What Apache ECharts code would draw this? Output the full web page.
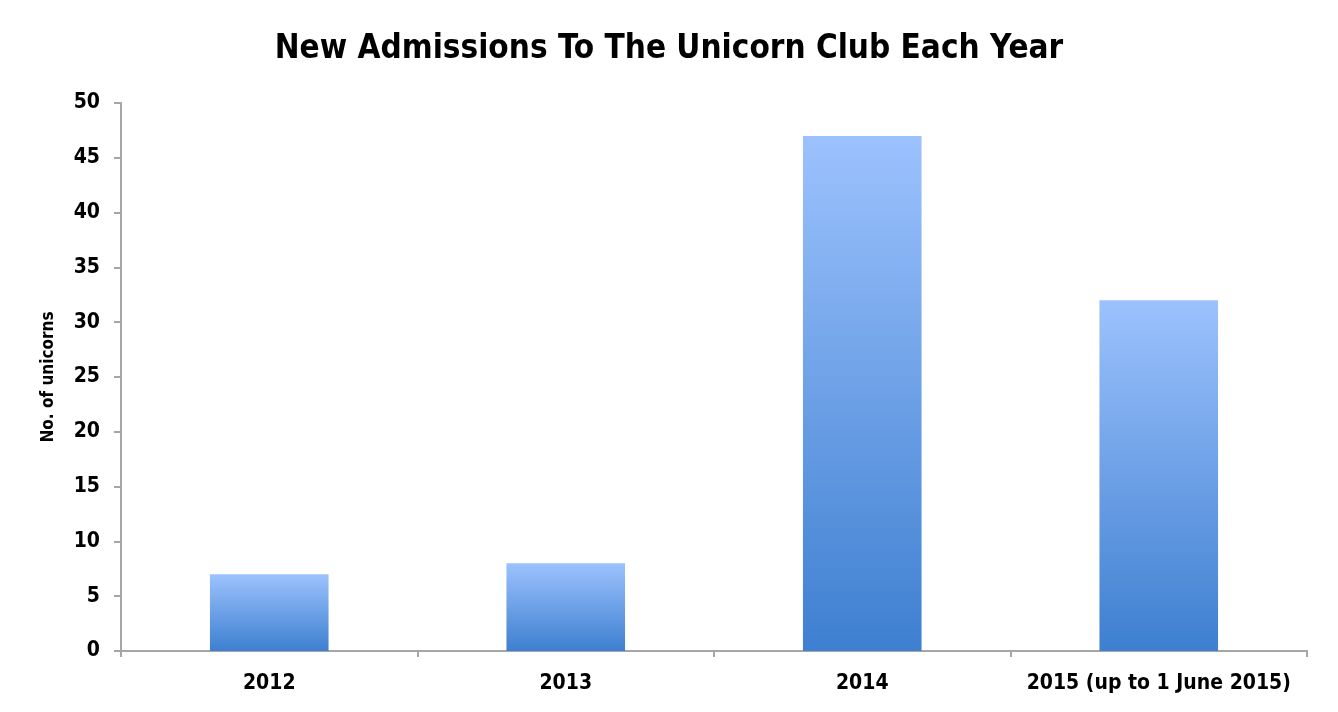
<!DOCTYPE html>
<html><head><meta charset="utf-8">
<script src="https://cdn.jsdelivr.net/npm/echarts@6/dist/echarts.min.js"></script>
<style>html,body{margin:0;padding:0;background:#fff}#c{width:1338px;height:712px}</style>
</head><body><div id="c"></div>
<script>
const categories = ['2012', '2013', '2014', '2015 (up to 1 June 2015)'];
const unicorns = [7, 8, 47, 32];
const yTicks = [0, 5, 10, 15, 20, 25, 30, 35, 40, 45, 50];

const FONT = '"Liberation Sans Narrow", "DejaVu Sans Condensed", sans-serif';
const chart = echarts.init(document.getElementById('c'));
chart.setOption({
  backgroundColor: '#fff',
  title: {
    text: 'New Admissions To The Unicorn Club Each Year',
    left: 'center', top: 28,
    textStyle: { fontFamily: FONT, fontWeight: 'bold', fontSize: 33, color: '#000' }
  },
  grid: { left: 121, right: 31, top: 103, bottom: 61 },
  xAxis: {
    type: 'category', data: categories,
    axisLine: { lineStyle: { color: '#a6a6a6', width: 2 } },
    axisTick: { show: true, alignWithLabel: false, length: 6, lineStyle: { color: '#a6a6a6', width: 2 } },
    axisLabel: { interval: 0, fontFamily: FONT, fontWeight: 'bold', fontSize: 21, color: '#000', margin: 22 }
  },
  yAxis: {
    type: 'value', min: yTicks[0], max: yTicks[yTicks.length - 1], interval: 5,
    name: 'No. of unicorns', nameLocation: 'middle', nameGap: 64, nameRotate: 90,
    nameTextStyle: { fontFamily: FONT, fontWeight: 'bold', fontSize: 17, color: '#000' },
    axisLine: { show: true, lineStyle: { color: '#a6a6a6', width: 2 } },
    axisTick: { show: true, length: 7, lineStyle: { color: '#a6a6a6', width: 2 } },
    splitLine: { show: false },
    axisLabel: { fontFamily: FONT, fontWeight: 'bold', fontSize: 21, color: '#000', margin: 21 }
  },
  series: [{
    type: 'bar', data: unicorns, barWidth: '40%',
    itemStyle: {
      color: new echarts.graphic.LinearGradient(0, 0, 0, 1, [
        { offset: 0, color: '#9cc2fd' },
        { offset: 1, color: '#3e7fd0' }
      ]),
      shadowColor: 'rgba(0,0,0,0.25)', shadowBlur: 4
    }
  }]
});
</script></body></html>
